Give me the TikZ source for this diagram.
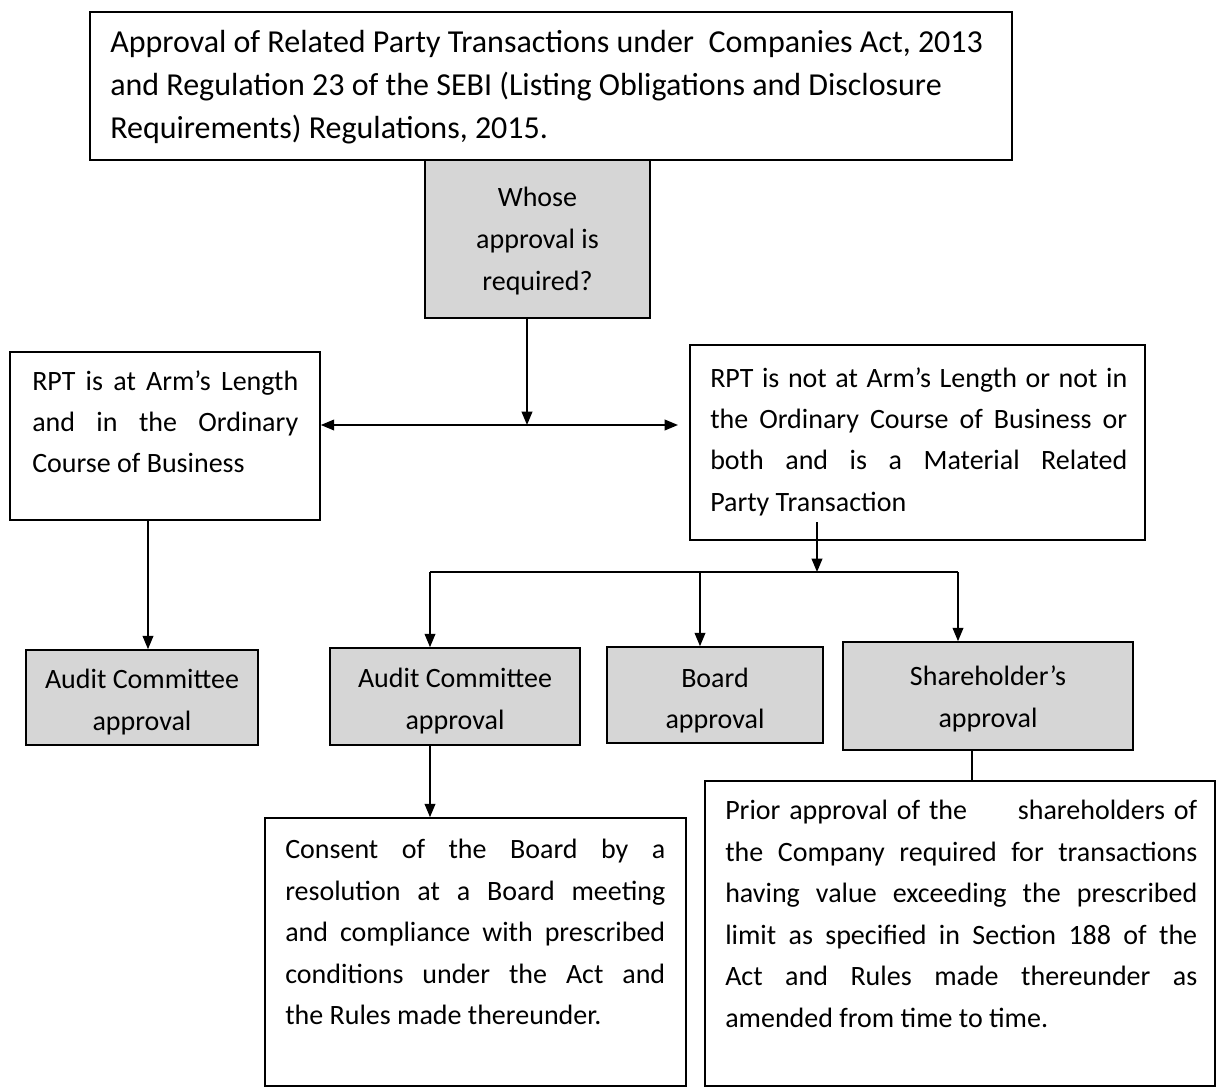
\documentclass[tikz,border=0pt]{standalone}
\usepackage{fontspec}
\setmainfont{Carlito}
\usetikzlibrary{arrows.meta,fit}
\begin{document}
\begin{tikzpicture}[x={(0.75pt,0pt)},y={(0pt,-0.75pt)},
  box/.style={draw, line width=1.2pt, inner sep=0pt},
  shadebox/.style={box, fill=black!16},
  txt/.style={anchor=north west, inner sep=0pt, align=justify, font=\fontsize{21}{31.1}\selectfont},
  ctxt/.style={inner sep=0pt, align=center, font=\fontsize{21}{31.1}\selectfont},
  conn/.style={line width=1.2pt},
  arr/.style={conn, -{Triangle[length=10pt,width=8pt]}}]
\useasboundingbox[fill=white] (0,0) rectangle (1218,1088);
% boxes
\node[box, fit={(90,12) (1012,160)}] (top) {};
\node[shadebox, fit={(425,160) (650,318)}] (who) {};
\node[box, fit={(10,352) (320,520)}] (left) {};
\node[box, fit={(690,345) (1145,540)}] (right) {};
\node[shadebox, fit={(26,650) (258,745)}] (ac1) {};
\node[shadebox, fit={(330,648) (580,745)}] (ac2) {};
\node[shadebox, fit={(607,647) (823,743)}] (board) {};
\node[shadebox, fit={(843,642) (1133,750)}] (sh) {};
\node[box, fit={(265,818) (686,1086)}] (consent) {};
\node[box, fit={(705,781) (1215,1086)}] (prior) {};
% texts
\node[txt, align=left, font=\fontsize{24}{32.3}\selectfont] (toptext) at (110,30) {Approval of Related Party Transactions under\ \ Companies Act, 2013\\ and Regulation 23 of the SEBI (Listing Obligations and Disclosure\\ Requirements) Regulations, 2015.};
\node[ctxt, yshift=-1.5pt, font=\fontsize{21}{31.5}\selectfont] (whotext) at (who.center) {Whose\\approval is\\required?};
\node[txt, text width=266*0.75pt] (lefttext) at (32,370) {RPT is at Arm’s Length\linebreak and in the Ordinary\linebreak Course of Business};
\node[txt, text width=417*0.75pt] (righttext) at (710,367) {RPT is not at Arm’s Length or not in\linebreak the Ordinary Course of Business or\linebreak both and is a Material Related\linebreak Party Transaction};
\node[ctxt, yshift=-3.5pt] (ac1text) at (ac1.center) {Audit Committee\\approval};
\node[ctxt, yshift=-3.5pt] (ac2text) at (ac2.center) {Audit Committee\\approval};
\node[ctxt, yshift=-4pt] (boardtext) at (board.center) {Board\\approval};
\node[ctxt, yshift=-2pt] (shtext) at (sh.center) {Shareholder’s\\approval};
\node[txt, text width=380*0.75pt] (consenttext) at (285,839) {Consent of the Board by a\linebreak resolution at a Board meeting\linebreak and compliance with prescribed\linebreak conditions under the Act and\linebreak the Rules made thereunder.};
\node[txt, text width=472*0.75pt] (priortext) at (725,800) {Prior approval of the\hspace{1.5em} shareholders of\linebreak the Company required for transactions\linebreak having value exceeding the prescribed\linebreak limit as specified in Section 188 of the\linebreak Act and Rules made thereunder as\linebreak amended from time to time.};
% connector coordinates
\coordinate (j1) at (527,425);
\coordinate (c1) at (148,0);
\coordinate (s0) at (817,522);
\coordinate (s1) at (817,572);
\coordinate (c2) at (430,572);
\coordinate (c3) at (700,572);
\coordinate (c4) at (958,572);
\coordinate (c5) at (972,0);
\coordinate (rgap) at (678,425);
% connectors
\draw[arr] (who.south -| j1) -- (j1);
\draw[conn, {Triangle[length=10pt,width=8pt]}-{Triangle[length=10pt,width=8pt]}] (left.east |- j1) -- (rgap);
\draw[arr] (left.south -| c1) -- (ac1.north -| c1);
\draw[arr] (s0) -- (s1);
\draw[conn] (c2) -- (c4);
\draw[arr] (c2) -- (ac2.north -| c2);
\draw[arr] (c3) -- (board.north -| c3);
\draw[arr] (c4) -- (sh.north -| c4);
\draw[arr] (ac2.south -| c2) -- (consent.north -| c2);
\draw[conn] (sh.south -| c5) -- (prior.north -| c5);
\end{tikzpicture}
\end{document}
